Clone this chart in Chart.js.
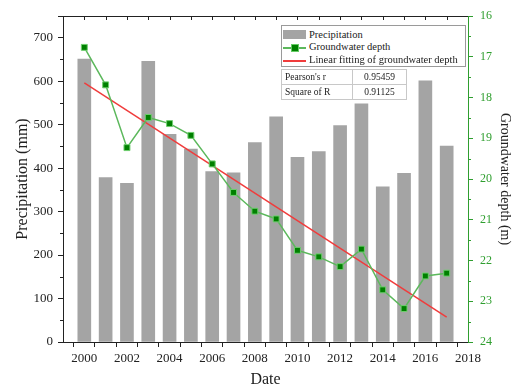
<!DOCTYPE html>
<html><head><meta charset="utf-8">
<script src="https://cdn.jsdelivr.net/npm/chart.js@4.4.1/dist/chart.umd.min.js"></script>
<style>
html,body{margin:0;padding:0;background:#fff;}
#wrap{position:relative;width:513px;height:385px;overflow:hidden;}
#c{position:absolute;left:0;top:0;}
.box{position:absolute;font-family:"Liberation Serif",serif;color:#222;background:#fff;}
#legend{left:281px;top:25px;width:183px;height:40px;border:1px solid #9a9a9a;font-size:10.5px;}
.row{position:absolute;left:0;height:12px;line-height:12px;white-space:nowrap;}
.row span{position:absolute;left:27px;top:0;}
.sw{position:absolute;}
#tbl{left:281px;top:69px;border-collapse:collapse;font-size:9.5px;border:1.5px solid #a0a0a0;}
#tbl td{border:1px solid #c8c8c8;height:14px;padding:0 3px;line-height:14px;}
</style></head>
<body><div id="wrap"><canvas id="c" width="513" height="385"></canvas>
<div id="legend" class="box">
  <div class="row" style="top:3px;width:183px"><div class="sw" style="left:1px;top:1px;width:23px;height:9px;background:#a4a4a4"></div><span>Precipitation</span></div>
  <div class="row" style="top:15px;width:183px"><div class="sw" style="left:1px;top:6px;width:23px;height:1.5px;background:#5cb85c"></div><div class="sw" style="left:9px;top:3px;width:6px;height:6px;background:#008000;border:0.5px solid #66cc66"></div><span>Groundwater depth</span></div>
  <div class="row" style="top:28px;width:183px"><div class="sw" style="left:1px;top:6px;width:23px;height:1.5px;background:#f03c3c"></div><span>Linear fitting of groundwater depth</span></div>
</div>
<table id="tbl" class="box">
  <tr><td style="width:64px">Pearson's r</td><td style="width:47px;text-align:center">0.95459</td></tr>
  <tr><td>Square of R</td><td style="text-align:center">0.91125</td></tr>
</table>
</div>
<script>
const years = [2000,2001,2002,2003,2004,2005,2006,2007,2008,2009,2010,2011,2012,2013,2014,2015,2016,2017];
const precipitation = [651,378,365,646,478,444,392,389,459,518,425,438,498,548,357,388,601,451];
const groundwater = [16.77,17.69,19.23,18.49,18.64,18.93,19.63,20.33,20.79,20.98,21.75,21.91,22.15,21.72,22.72,23.18,22.38,22.31];
const fitYears = [2000,2017];
const fitDepth = [17.64,23.39];

const SERIF = '"Liberation Serif", "Times New Roman", serif';
const GREEN = '#2f9e2f';

const extraTicks = {
  id:'extraTicks',
  afterDraw(chart){
    const {ctx, chartArea:a, scales:{x,y,y2}} = chart;
    ctx.save();
    ctx.lineWidth = 1;
    ctx.strokeStyle = '#222';
    ctx.beginPath();
    ctx.moveTo(a.left, Math.round(a.top)+0.5); ctx.lineTo(a.right, Math.round(a.top)+0.5);
    for (let yr = x.min+1; yr < x.max; yr++) {
      const px = Math.round(x.getPixelForValue(yr))+0.5;
      ctx.moveTo(px, a.top); ctx.lineTo(px, a.top+4);
    }
    for (let v = 50; v < y.max; v += 100) {
      const py = Math.round(y.getPixelForValue(v))+0.5;
      ctx.moveTo(a.left, py); ctx.lineTo(a.left-3, py);
    }
    ctx.stroke();
    ctx.strokeStyle = GREEN;
    ctx.beginPath();
    for (let v = y2.min+0.5; v < y2.max; v += 1) {
      const py = Math.round(y2.getPixelForValue(v))+0.5;
      ctx.moveTo(a.right, py); ctx.lineTo(a.right+3, py);
    }
    ctx.stroke();
    ctx.restore();
  }
};

new Chart(document.getElementById('c'), {
  data: {
    datasets: [
      {type:'line', label:'Groundwater depth', yAxisID:'y2', order:1,
       data: years.map((yr,i)=>({x:yr, y:groundwater[i]})),
       borderColor:'#5cb85c', borderWidth:1.5, tension:0,
       pointStyle:'rect', pointRadius:4.2, pointBackgroundColor:'#008000', pointBorderColor:'#6fcf6f', pointBorderWidth:1},
      {type:'line', label:'Linear fitting of groundwater depth', yAxisID:'y2', order:2,
       data: fitYears.map((yr,i)=>({x:yr, y:fitDepth[i]})),
       borderColor:'#f03c3c', borderWidth:1.5, pointRadius:0},
      {type:'bar', label:'Precipitation', yAxisID:'y', order:3,
       data: years.map((yr,i)=>({x:yr, y:precipitation[i]})),
       backgroundColor:'#a4a4a4', borderWidth:0, barThickness:13}
    ]
  },
  options: {
    responsive:false, animation:false, devicePixelRatio:1,
    layout:{padding:{top:16}},
    plugins:{legend:{display:false}, tooltip:{enabled:false}},
    scales:{
      x:{type:'linear', position:'bottom', min:1999, max:2018, offset:false,
        afterFit(s){ s.height = 43; },
        ticks:{stepSize:1, autoSkip:false, maxRotation:0, padding:4, color:'#222',
          font:{family:SERIF, size:13},
          callback:(v)=> (v % 2 === 0) ? String(v) : ''},
        grid:{drawOnChartArea:false, drawTicks:true, tickLength:5, color:'#222'},
        border:{display:true, color:'#222'},
        title:{display:true, text:'Date', color:'#222', font:{family:SERIF, size:16, lineHeight:1}, padding:{top:0,bottom:-3}}
      },
      y:{type:'linear', position:'left', min:0, max:750,
        afterFit(s){ s.width = 63; },
        ticks:{stepSize:100, padding:5, color:'#222', font:{family:SERIF, size:13},
          callback:(v)=> v % 100 === 0 ? String(v) : ''},
        grid:{drawOnChartArea:false, drawTicks:true, tickLength:5, color:'#222'},
        border:{display:true, color:'#222'},
        title:{display:true, text:'Precipitation (mm)', color:'#222', font:{family:SERIF, size:16}, padding:{top:13,bottom:0}}
      },
      y2:{type:'linear', position:'right', min:16, max:24, reverse:true,
        afterFit(s){ s.width = 45; },
        ticks:{stepSize:1, padding:7, color:GREEN, font:{family:SERIF, size:12}},
        grid:{drawOnChartArea:false, drawTicks:true, tickLength:5, color:GREEN},
        border:{display:true, color:GREEN},
        title:{display:true, text:'Groundwater depth (m)', color:'#222', font:{family:SERIF, size:14}, padding:{top:0,bottom:0}}
      }
    }
  },
  plugins:[extraTicks]
});
</script>
</body></html>
